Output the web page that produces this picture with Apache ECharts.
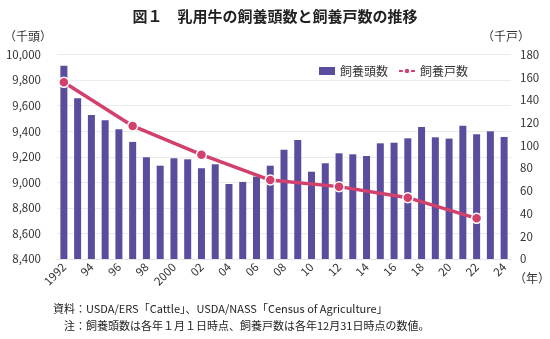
<!DOCTYPE html>
<html><head><meta charset="utf-8">
<script src="https://cdn.jsdelivr.net/npm/echarts@6/dist/echarts.min.js"></script>
<style>html,body{margin:0;padding:0;background:#fff}#c{width:550px;height:339px}</style>
</head><body><div id="c"></div>
<script>
const years = ['1992','1993','1994','1995','1996','1997','1998','1999','2000','2001','2002','2003','2004','2005','2006','2007','2008','2009','2010','2011','2012','2013','2014','2015','2016','2017','2018','2019','2020','2021','2022','2023','2024'];
const yearTickLabels = ['1992','94','96','98','2000','02','04','06','08','10','12','14','16','18','20','22','24'];
// 飼養頭数 (千頭)
const headCount = [9912,9657,9527,9485,9415,9316,9196,9130,9188,9180,9110,9141,8987,9003,9044,9130,9255,9331,9083,9149,9227,9219,9206,9305,9310,9344,9433,9352,9342,9443,9376,9399,9355];
// 飼養戸数 (千戸) — census years only
const farmCount = [155.5,null,null,null,null,117.1,null,null,null,null,91.8,null,null,null,null,69.5,null,null,null,null,63.7,null,null,null,null,54.0,null,null,null,null,35.8,null,null];
const seriesNames = ['飼養頭数','飼養戸数'];
const titleText = '図１　乳用牛の飼養頭数と飼養戸数の推移';
const leftUnit = '（千頭）', rightUnit = '（千戸）', xUnit = '（年）';
const note1 = '資料：USDA/ERS「Cattle」、USDA/NASS「Census of Agriculture」';
const note2 = '　注：飼養頭数は各年１月１日時点、飼養戸数は各年12月31日時点の数値。';

const FONT = '"Noto Sans CJK JP", "Noto Sans", sans-serif';
const chart = echarts.init(document.getElementById('c'), null, {renderer:'canvas'});
chart.setOption({
  backgroundColor:'#fff',
  animation:false,
  textStyle:{fontFamily:FONT},
  title:{text:titleText, left:'center', top:4, textStyle:{fontSize:15, fontWeight:'bold', color:'#222', fontFamily:FONT}},
  legend:{left:314, top:60, itemGap:10, itemWidth:16, itemHeight:8,
    textStyle:{fontSize:12, color:'#333', fontFamily:FONT},
    data:[{name:seriesNames[0], icon:'rect'},{name:seriesNames[1]}]},
  grid:{left:57, right:39, top:54.5, bottom:80},
  xAxis:{type:'category', data:years, boundaryGap:true,
    axisTick:{show:false}, axisLine:{lineStyle:{color:'#e6e6e6'}},
    axisLabel:{interval:1, rotate:45, fontSize:11.5, color:'#333', margin:6,
      formatter:(v,i)=>yearTickLabels[i/2] ?? ''}},
  yAxis:[
    {type:'value', min:8400, max:10000, interval:200,
     axisLine:{show:false}, axisTick:{show:false},
     splitLine:{lineStyle:{color:'#ebebeb'}},
     axisLabel:{fontSize:11.5, color:'#333', margin:16,
       formatter:v=>v.toLocaleString('en-US')}},
    {type:'value', min:0, max:180, interval:20,
     axisLine:{show:false}, axisTick:{show:false}, splitLine:{show:false},
     axisLabel:{fontSize:11.5, color:'#333', margin:9}}
  ],
  series:[
    {name:seriesNames[0], type:'bar', data:headCount, barWidth:7,
     itemStyle:{color:'#5b4c9e'}},
    {name:seriesNames[1], type:'line', yAxisIndex:1, data:farmCount, connectNulls:true,
     showAllSymbol:true, symbol:'circle', symbolSize:10,
     lineStyle:{width:3.5, color:'#d2416c'},
     itemStyle:{color:'#d2416c', borderColor:'#fff', borderWidth:1.5}}
  ],
  graphic:[
    {type:'text', left:4, top:30, style:{text:leftUnit, fill:'#333', font:'12px '+FONT}},
    {type:'text', left:482, top:30, style:{text:rightUnit, fill:'#333', font:'12px '+FONT}},
    {type:'text', left:514, top:272, style:{text:xUnit, fill:'#333', font:'12px '+FONT}},
    {type:'text', left:53, top:303, style:{text:note1, fill:'#222', font:'11px '+FONT}},
    {type:'text', left:53, top:320, style:{text:note2, fill:'#222', font:'11px '+FONT}}
  ]
});
</script></body></html>
